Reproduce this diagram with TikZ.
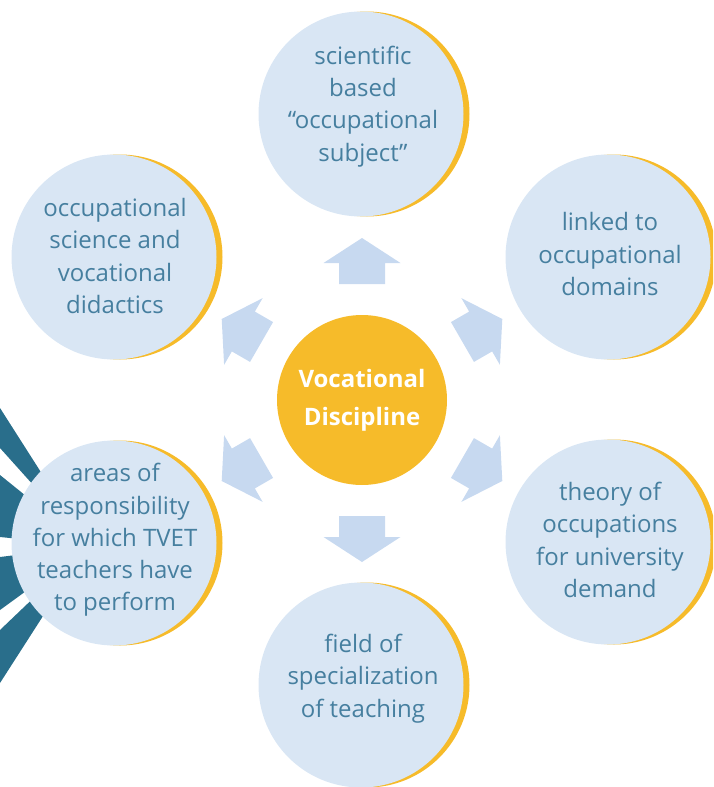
\documentclass[tikz,border=0pt]{standalone}
\usepackage{fontspec}
\setmainfont{Open Sans}
\usetikzlibrary{calc}
\definecolor{circfill}{RGB}{217,230,244}
\definecolor{rim}{RGB}{246,187,42}
\definecolor{txtc}{RGB}{70,127,159}
\definecolor{arrc}{RGB}{199,217,240}
\definecolor{darkteal}{RGB}{41,110,139}
\begin{document}
\begin{tikzpicture}[x=1pt,y=-1pt,
  outer/.style={circle, fill=circfill, minimum size=205pt, inner sep=0pt},
  rimc/.style={circle, fill=rim, minimum size=205pt, inner sep=0pt},
  lbl/.style={text=txtc, align=center, inner sep=0pt, font=\fontsize{24}{32.2}\selectfont},
  hub/.style={circle, fill=rim, minimum size=170pt, inner sep=0pt, text=white, align=center, font=\bfseries\fontsize{24}{38}\selectfont},
  ray/.style={fill=darkteal},
  arrowshape/.style={fill=arrc}]
\useasboundingbox (0,0) rectangle (713,787);
\clip (0,0) rectangle (713,787);
% sunburst rays at the left
\coordinate (sun) at (88,546);
\foreach \a/\b in {408/448, 475/537, 557/610, 630/683}
  \fill[ray] (sun) -- ($(sun)!1.5!(0,\a)$) -- ($(sun)!1.5!(0,\b)$) -- cycle;
% outer circles with yellow rims
\foreach \n/\x/\y in {ct/361/114, ctr/608/257, cbr/608/542, cb/361/685, cbl/114/543, ctl/114/257} {
  \node[rimc] (\n-rim) at (\x+6,\y) {};
  \node[outer] (\n) at (\x,\y) {};
}
% hub
\node[hub] (hub) at (362,400) {Vocational\\Discipline};
% arrows
\foreach \a in {90,30,-30,-90,210,150}
  \fill[arrowshape, shift={(hub.center)}, rotate=\a]
    (116,-23) -- (137,-23) -- (137,-38.5) -- (162,0) -- (137,38.5) -- (137,23) -- (116,23) -- cycle;
% labels
\node[lbl] (t-ct)  at (363,106.5) {scientific\\based\\“occupational\\subject”};
\node[lbl] (t-ctl) at (115,256) {occupational\\science and\\vocational\\didactics};
\node[lbl] (t-ctr) at (610,254) {linked to\\occupational\\domains};
\node[lbl] (t-cbr) at (610,540) {theory of\\occupations\\for university\\demand};
\node[lbl] (t-cb)  at (363,678.5) {field of\\specialization\\of teaching};
\node[lbl] (t-cbl) at (115,540) {areas of\\responsibility\\for which TVET\\teachers have\\to perform};
\end{tikzpicture}
\end{document}
